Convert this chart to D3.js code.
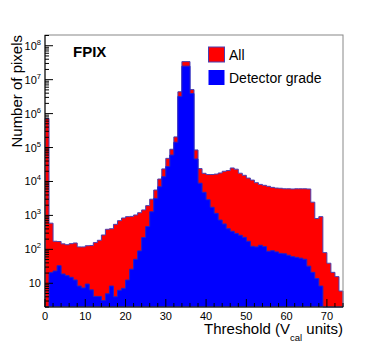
<!DOCTYPE html>
<html><head><meta charset="utf-8">
<script src="https://cdn.jsdelivr.net/npm/d3@7"></script>
<style>body{margin:0;background:#fff}svg{display:block}text{font-family:"Liberation Sans",Arial,Helvetica,sans-serif}</style>
</head><body>
<script>
// Bin edges: 0..74, width 1 (Vcal units)
const binLow = d3.range(0, 74);
const allPixels = [720000,590,173,170,145,137,147,154,118,118,128,130,158,185,265,390,405,545,700,840,
  920,935,1030,1200,1450,1940,3000,5600,11800,23500,48000,89000,206000,4400000,34000000,34000000,5100000,85000,24000,17400,
  16000,16000,16500,17800,20000,21000,25000,23000,17500,15200,12600,11000,9200,8200,7700,7200,6700,6400,6300,6100,
  6100,6000,6100,6100,6100,6000,2450,810,920,80,39,21,15.7,5.9];
const detectorGrade = [0,20.6,23,33,18.8,16.8,15,12.5,8.3,7.3,9.5,6.4,4.1,4.1,3.1,4.9,8.3,4.0,6.2,7.1,
  12.5,26,51,90,223,470,1280,3170,7000,13800,27500,60000,143000,3200000,25000000,25000000,3900000,46000,8900,4800,
  2900,1740,1150,730,560,405,340,295,260,226,173,123,118,132,120,88,91,84,76,74,
  67,61,58,55,51,32,21,13.8,8.3,0,0,0,0,0];
const xTicks = [0,10,20,30,40,50,60,70];
const yDecades = [1,2,3,4,5,6,7,8];
const seriesNames = ["All","Detector grade"];
const seriesColors = ["#ff0000","#0000ff"];

const W = 381, H = 349;
const L = 45, R = 343, T = 35, B = 307;
const svg = d3.select("body").append("svg").attr("width", W).attr("height", H);

const x = d3.scaleLinear().domain([0, 74]).range([L, R]);
const y = d3.scaleLog().domain([2.0, 2.07e8]).range([B, T]).clamp(true);

function stepPts(vals){
  const pts = [];
  vals.forEach((v,i)=>{ const vv = Math.max(v, 2.0); pts.push([binLow[i], vv]); pts.push([binLow[i]+1, vv]); });
  return pts;
}
const area = d3.area().x(d=>x(d[0])).y0(B).y1(d=>y(d[1]));
const line = d3.line().x(d=>x(d[0])).y(d=>y(d[1]));

const g = svg.append("g");
[allPixels, detectorGrade].forEach((vals, k)=>{
  const pts = stepPts(vals);
  g.append("path").attr("d", area(pts)).attr("fill", seriesColors[k]).attr("stroke","none");
  const full = [[0,2.0]].concat(pts).concat([[74,2.0]]);
  g.append("path").attr("d", line(full)).attr("fill","none")
    .attr("stroke", k===0 ? "#4a3fb0" : "#2222c8").attr("stroke-width", 1);
});

// frame
svg.append("rect").attr("x", L).attr("y", T).attr("width", R-L).attr("height", B-T)
  .attr("fill","none").attr("stroke","#888").attr("stroke-width",1);
svg.append("line").attr("x1",L).attr("x2",L).attr("y1",T).attr("y2",B).attr("stroke","#000");
svg.append("line").attr("x1",L).attr("x2",R).attr("y1",B).attr("y2",B).attr("stroke","#000");

// x axis ticks (inside)
const xMinor = d3.range(0, 75, 2);
xMinor.forEach(v=>{
  const major = v % 10 === 0;
  svg.append("line").attr("x1",x(v)).attr("x2",x(v)).attr("y1",B).attr("y2",B-(major?8:4))
    .attr("stroke","#000").attr("stroke-width",1);
});
svg.append("g").selectAll("text").data(xTicks).join("text")
  .attr("x", d=>x(d)).attr("y", 319.5).attr("text-anchor","middle")
  .attr("font-size", 11).attr("fill","#000").text(d=>d);

// y axis ticks (log)
yDecades.forEach(e=>{
  for (let m=1; m<=9; m++){
    const v = m*Math.pow(10,e-1);
    if (v < 2.0 || v > 2.07e8) continue;
    const major = (m===1);
    svg.append("line").attr("x1",L).attr("x2",L+(major?8:4)).attr("y1",y(v)).attr("y2",y(v))
      .attr("stroke","#000").attr("stroke-width",1);
  }
});
[1e8].forEach(v=>{ svg.append("line").attr("x1",L).attr("x2",L+8).attr("y1",y(v)).attr("y2",y(v)).attr("stroke","#000"); });
[2e8].forEach(v=>{ if (v<=2.07e8) svg.append("line").attr("x1",L).attr("x2",L+4).attr("y1",y(v)).attr("y2",y(v)).attr("stroke","#000"); });

yDecades.forEach(e=>{
  const t = svg.append("text").attr("x", 41).attr("y", y(Math.pow(10,e))+4)
    .attr("text-anchor","end").attr("font-size",11).attr("fill","#000");
  if (e===1) { t.text("10"); }
  else {
    t.append("tspan").text("10");
    t.append("tspan").attr("font-size",7.5).attr("dy",-5).text(e);
  }
});

// axis titles
svg.append("text").attr("transform","translate(22,35) rotate(-90)").attr("text-anchor","end")
  .attr("font-size",15).attr("fill","#000").text("Number of pixels");
const xt = svg.append("text").attr("x", 343).attr("y", 334).attr("text-anchor","end")
  .attr("font-size",15).attr("fill","#000");
xt.append("tspan").text("Threshold (V");
xt.append("tspan").attr("font-size",9.5).attr("dy",7).text("cal");
xt.append("tspan").attr("dy",-7).text(" units)");

// label
svg.append("text").attr("x",73).attr("y",57).attr("font-size",15).attr("font-weight","bold")
  .attr("fill","#000").text("FPIX");

// legend
const lg = svg.append("g");
const legY = [47, 70];
seriesNames.forEach((n,k)=>{
  lg.append("rect").attr("x",208.5).attr("y",legY[k]).attr("width",16).attr("height",15)
    .attr("fill",seriesColors[k]).attr("stroke", k===0 ? "#4a3fb0" : "none").attr("stroke-width",1);
  lg.append("text").attr("x",229).attr("y",legY[k]+13).attr("font-size",14).attr("fill","#000").text(n);
});
</script>
</body></html>
